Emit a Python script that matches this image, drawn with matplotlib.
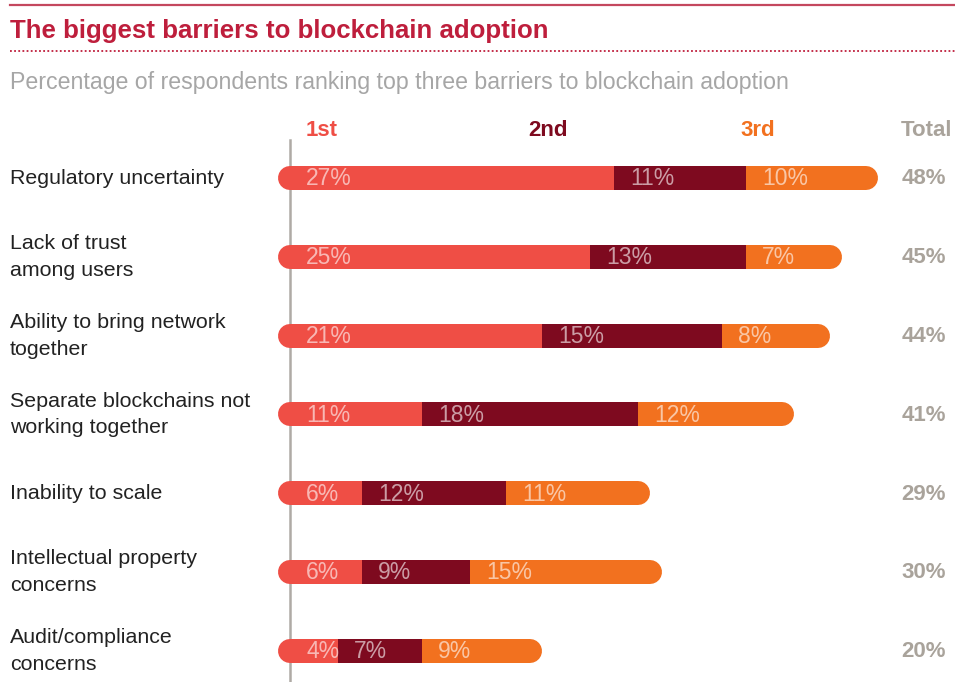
import matplotlib
matplotlib.use('Agg')
import matplotlib.pyplot as plt
import matplotlib.transforms as mtransforms
from matplotlib.lines import Line2D

categories = ["Regulatory uncertainty", "Lack of trust\namong users",
              "Ability to bring network\ntogether", "Separate blockchains not\nworking together",
              "Inability to scale", "Intellectual property\nconcerns", "Audit/compliance\nconcerns"]
first = [27, 25, 21, 11, 6, 6, 4]
second = [11, 13, 15, 18, 12, 9, 7]
third = [10, 7, 8, 12, 11, 15, 9]
totals = [48, 45, 44, 41, 29, 30, 20]
series_names = ["1st", "2nd", "3rd"]
total_label = "Total"
title = "The biggest barriers to blockchain adoption"
subtitle = "Percentage of respondents ranking top three barriers to blockchain adoption"

colors = ["#EF4E45", "#7E0A1F", "#F2711F"]
grey = "#A9A39B"
red = "#BE1E3C"
FONT = "Liberation Sans"
plt.rcParams['font.family'] = [FONT, 'DejaVu Sans']

W, H = 955, 682
fig = plt.figure(figsize=(W / 100, H / 100), dpi=100)
ax = fig.add_axes([0, 0, 1, 1])
x0px, pxper = 290, 12.0
row0, rowsp = 178, 78.83
ax.set_xlim(-x0px / pxper, (W - x0px) / pxper)
ax.set_ylim((H - row0) / rowsp, -row0 / rowsp)
ax.axis('off')

def fx(px):
    return px / W

def fy(py):
    return 1 - py / H

blend = mtransforms.blended_transform_factory(fig.transFigure, ax.transData)

bar_h_px = 24
bar_h = bar_h_px / rowsp
lw_pt = bar_h_px * 72 / 100

# axis line
ax.plot([0, 0], [(140 - row0) / rowsp, (H - row0) / rowsp], color="#AFAAA5", lw=1.8, zorder=1)

for i in range(len(categories)):
    segs = [first[i], second[i], third[i]]
    tot_len = sum(segs)
    # rounded caps (lines under the rectangles, only caps visible)
    ax.plot([0, segs[0]], [i, i], color=colors[0], lw=lw_pt, solid_capstyle='round', zorder=2)
    ax.plot([tot_len - segs[2], tot_len], [i, i], color=colors[2], lw=lw_pt,
            solid_capstyle='round', zorder=2)
    left = 0
    for j, v in enumerate(segs):
        ax.barh(i, v, left=left, height=bar_h, color=colors[j], edgecolor='none', zorder=3)
        ax.text(left + 1.35, i + 0.01, f"{v}%", ha='left', va='center', fontsize=16.5,
                color='white', alpha=0.6, zorder=4)
        left += v
    ax.text(fx(946), i + 0.01, f"{totals[i]}%", transform=blend,
            ha='right', va='center', fontsize=16, fontweight='bold', color=grey)
    ax.text(fx(10), i + 0.0, categories[i], transform=blend,
            ha='left', va='center', fontsize=15.4, color="#222222", linespacing=1.52)

# headers
hdr_y = fy(130)
for name, c, xp in zip(series_names, colors, [322, 548, 758]):
    fig.text(fx(xp), hdr_y, name, ha='center', va='center', fontsize=16, fontweight='bold', color=c)
fig.text(fx(926), hdr_y, total_label, ha='center', va='center', fontsize=16,
         fontweight='bold', color=grey)

# title area
fig.add_artist(Line2D([fx(10), fx(955)], [fy(5), fy(5)], color="#C4475E", lw=1.6))
fig.text(fx(10), fy(31), title, ha='left', va='center', fontsize=18.6, fontweight='bold', color=red)
fig.add_artist(Line2D([fx(10), fx(955)], [fy(51), fy(51)], color=red, lw=1.3,
                      linestyle=(0, (1, 1.3))))
fig.text(fx(10), fy(82), subtitle, ha='left', va='center', fontsize=16.7, color="#A6A6A6")

fig.savefig("out.png", dpi=100, facecolor='white')
